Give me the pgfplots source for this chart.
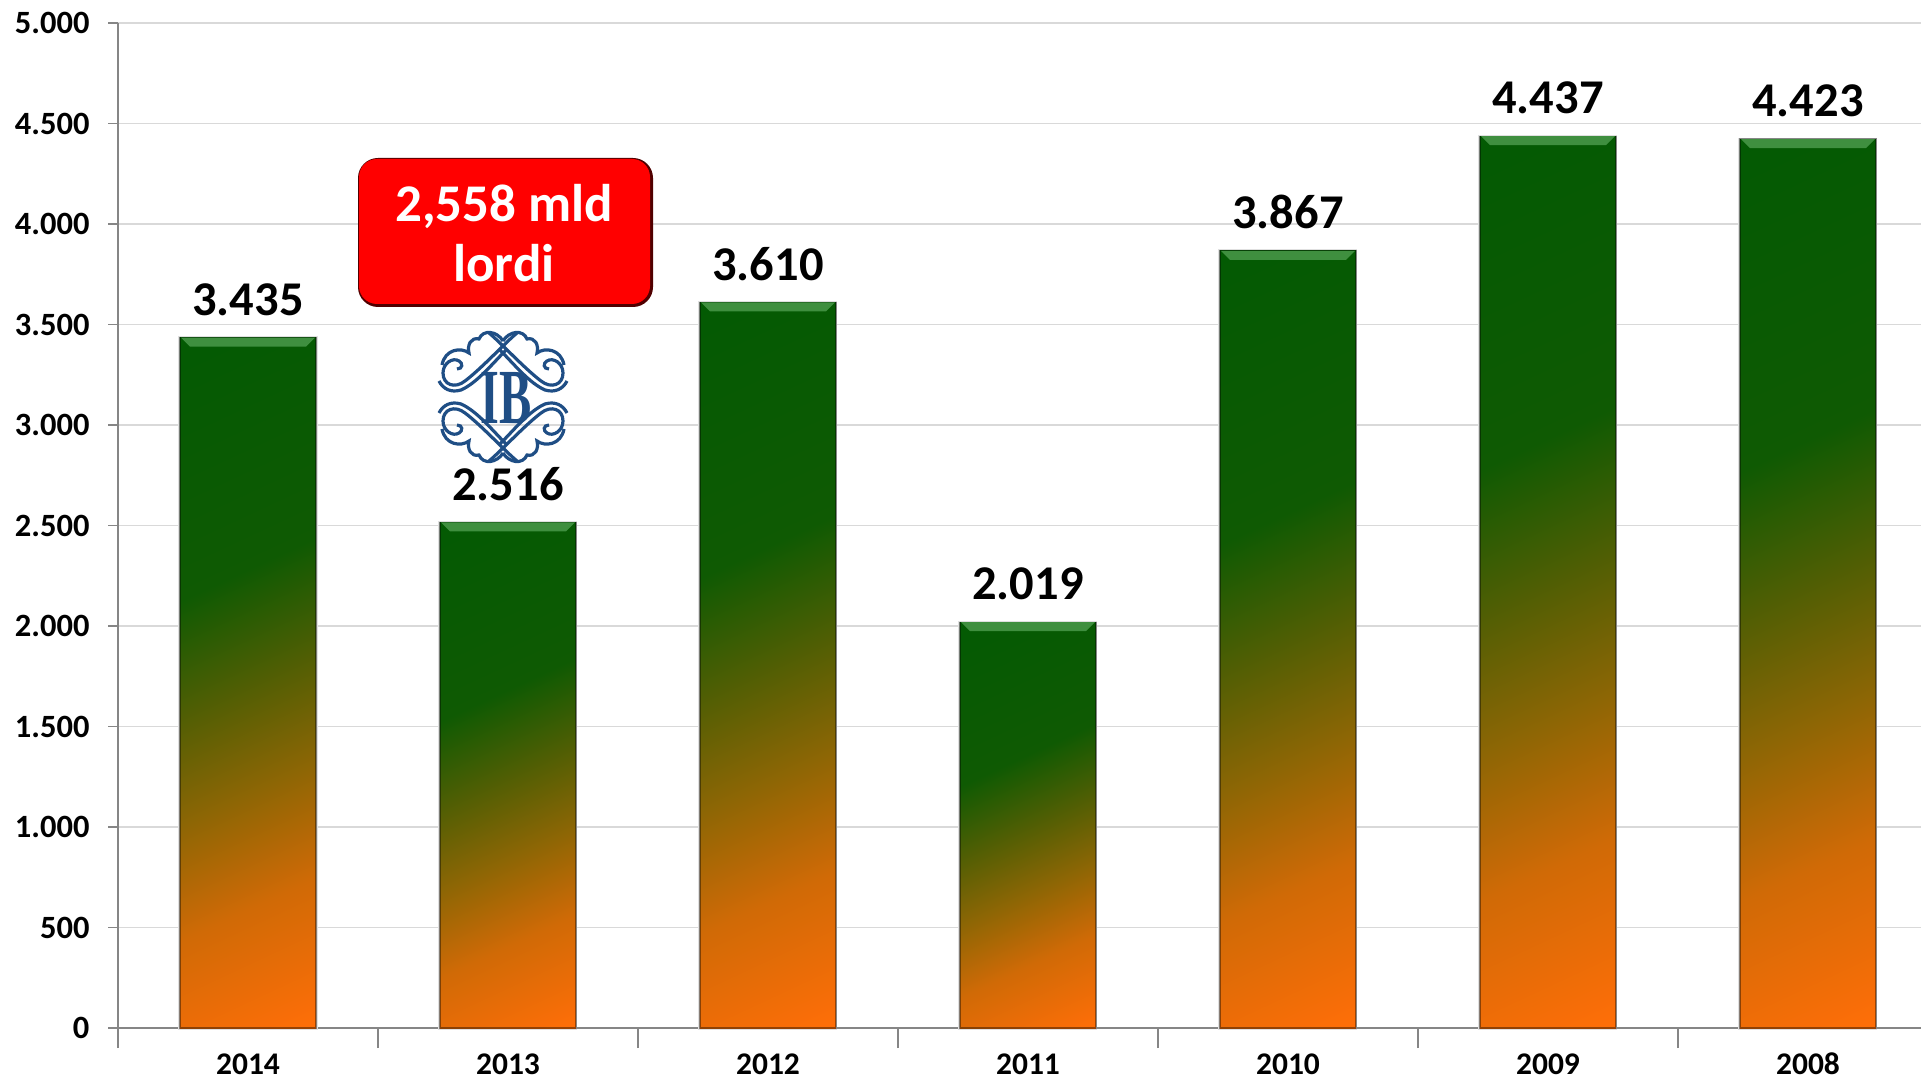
\documentclass[border=0pt]{standalone}
\usepackage{pgfplots}
\pgfplotsset{compat=1.18}
\usepackage{fontspec}
\setmainfont{Carlito}
\newfontfamily\logofont{Liberation Serif}
\definecolor{barG}{HTML}{035A03}
\definecolor{barO}{HTML}{FF6E08}
\definecolor{bevel}{HTML}{3F8F3F}
\definecolor{axisg}{HTML}{868686}
\definecolor{gridg}{HTML}{D9D9D9}
\definecolor{logob}{HTML}{1F4E85}
\definecolor{s1}{HTML}{D06A06}
\definecolor{s2}{HTML}{8E6605}
\definecolor{s3}{HTML}{4F5E04}
\definecolor{s4}{HTML}{0F5A03}
\pgfdeclareverticalshading{barshade}{100bp}{color(0bp)=(barO); color(17bp)=(barO); color(30bp)=(s1); color(40bp)=(s2); color(50bp)=(s3); color(60bp)=(s4); color(83bp)=(barG); color(100bp)=(barG)}
\pgfdeclareplotmark{bevelmark}{%
  \pgfpathmoveto{\pgfpoint{-67pt}{0pt}}
  \pgfpathlineto{\pgfpoint{67pt}{0pt}}
  \pgfpathlineto{\pgfpoint{58pt}{-9pt}}
  \pgfpathlineto{\pgfpoint{-58pt}{-9pt}}
  \pgfpathclose\pgfusepathqfill}
\pgfplotsset{
  onebar/.style={ybar, bar width=136pt, bar shift=0pt, draw=black, draw opacity=.4, line width=1.2pt,
    shading=barshade, shading angle=25,
    preaction={draw=black!12, draw opacity=1, line width=3pt},
    nodes near coords, nodes near coords style={font=\fontsize{48.5}{48.5}\selectfont\bfseries, black, yshift=18pt, /pgf/number format/.cd, 1000 sep={.}, assume math mode=true}},
}
\begin{document}
\begin{tikzpicture}[x=1pt,y=1pt]
\path[use as bounding box] (0,0) rectangle (1921,1082);
\begin{axis}[
  at={(118pt,54pt)}, anchor=south west,
  scale only axis, width=1803pt, height=1005pt,
  xmin=-0.5, xmax=6.4346, ymin=0, ymax=5000,
  axis lines=left, axis line style={-, draw=axisg, line width=2pt},
  ymajorgrids, grid style={draw=gridg, line width=1.6pt},
  ytick={0,500,...,5000},
  xtick={0,...,6}, xticklabels={2014,2013,2012,2011,2010,2009,2008},
  minor xtick={-0.5,0.5,1.5,2.5,3.5,4.5,5.5},
  x tick style={draw=none},
  minor x tick style={draw=axisg, line width=1.6pt},
  minor tick length=20pt,
  y tick style={draw=axisg, line width=1.6pt},
  major tick length=10pt, tick align=outside,
  xtick pos=bottom, ytick pos=left,
  xticklabel style={font=\fontsize{31.5}{31.5}\selectfont\bfseries, black, text height=20.5pt, text depth=0pt, inner sep=2pt, yshift=-14pt},
  yticklabel style={font=\fontsize{32.5}{32.5}\selectfont\bfseries, black, xshift=-15pt},
  /pgf/number format/.cd, 1000 sep={.}, assume math mode=true,
  clip=false,
]
\addplot[onebar] coordinates {(0,3435)};
\addplot[onebar] coordinates {(1,2516)};
\addplot[onebar] coordinates {(2,3610)};
\addplot[onebar] coordinates {(3,2019)};
\addplot[onebar] coordinates {(4,3867)};
\addplot[onebar] coordinates {(5,4437)};
\addplot[onebar] coordinates {(6,4423)};
\addplot[only marks, mark=bevelmark, draw=none, fill=bevel, mark options={fill=bevel, draw=none}, forget plot]
  coordinates {(0,3435) (1,2516) (2,3610) (3,2019) (4,3867) (5,4437) (6,4423)};
\end{axis}
\definecolor{boxedge}{HTML}{500000}
\fill[boxedge,rounded corners=20pt] (358,775) rectangle (653,924);
\fill[red,rounded corners=18pt] (359,778) rectangle (650,923);
\node[white,font=\fontsize{53}{60}\selectfont\bfseries,align=center] at (504,849) {2,558 mld\\lordi};
% logo
\begin{scope}[shift={(503,685)},draw=logob,line width=3.2pt]
\foreach \sx/\sy in {1/1,-1/1,1/-1,-1/-1}{
\begin{scope}[xscale=\sx,yscale=\sy]
\draw (-14,64) .. controls (-4,56) and (22,28) .. (38,16) .. controls (48,8) and (60,12) .. (60,24) .. controls (60,34) and (50,40) .. (44,36) .. controls (40,34) and (40,28) .. (46,28);
\draw (-4,48) .. controls (10,34) and (26,14) .. (42,7) .. controls (52,4) and (60,8) .. (64,16);
\draw (0,56) .. controls (6,66) and (20,68) .. (24,58) .. controls (32,60) and (36,52) .. (34,44) .. controls (42,50) and (58,48) .. (61,32);
\end{scope}}
\node[text=logob,font=\fontsize{78}{78}\logofont\bfseries,xscale=.62,inner sep=0pt] at (3,-1) {IB};
\end{scope}
\end{tikzpicture}
\end{document}
